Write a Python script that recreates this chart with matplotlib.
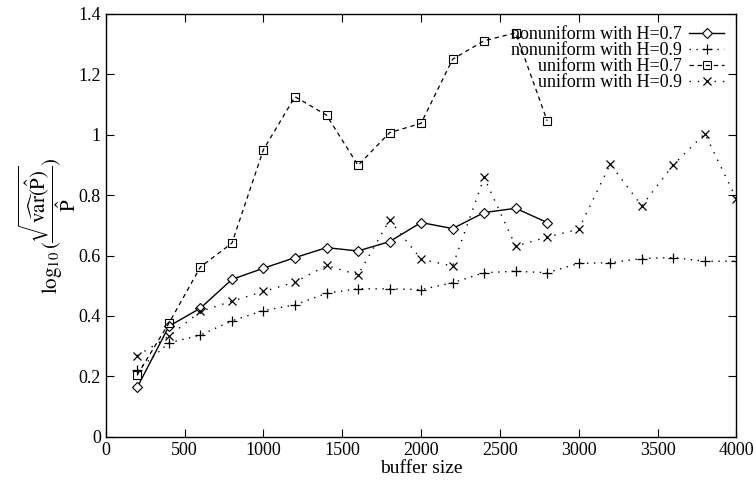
import matplotlib
matplotlib.use("Agg")
import matplotlib.pyplot as plt

plt.rcParams["font.family"] = ["Liberation Serif", "DejaVu Serif"]
plt.rcParams["mathtext.fontset"] = "stix"

# buffer sizes
x_nonuni_07 = [200, 400, 600, 800, 1000, 1200, 1400, 1600, 1800, 2000, 2200, 2400, 2600, 2800]
x_nonuni_09 = [200, 400, 600, 800, 1000, 1200, 1400, 1600, 1800, 2000, 2200, 2400, 2600, 2800,
               3000, 3200, 3400, 3600, 3800, 4000]
x_uni_07 = [200, 400, 600, 800, 1000, 1200, 1400, 1600, 1800, 2000, 2200, 2400, 2600, 2800]
x_uni_09 = [200, 400, 600, 800, 1000, 1200, 1400, 1600, 1800, 2000, 2200, 2400, 2600, 2800,
            3000, 3200, 3400, 3600, 3800, 4000]

# log10 of relative std estimate
y_nonuni_07 = [0.165, 0.366, 0.426, 0.521, 0.558, 0.593, 0.626, 0.615, 0.646, 0.709,
               0.689, 0.742, 0.756, 0.709]
y_nonuni_09 = [0.22, 0.311, 0.337, 0.384, 0.418, 0.437, 0.475, 0.49, 0.49, 0.487,
               0.51, 0.543, 0.548, 0.543, 0.574, 0.576, 0.59, 0.593, 0.581, 0.581]
y_uni_07 = [0.206, 0.376, 0.562, 0.641, 0.95, 1.125, 1.064, 0.898, 1.006, 1.037,
            1.249, 1.31, 1.336, 1.045]
y_uni_09 = [0.269, 0.333, 0.415, 0.449, 0.481, 0.512, 0.567, 0.536, 0.717, 0.588,
            0.565, 0.858, 0.631, 0.661, 0.687, 0.902, 0.764, 0.9, 1.003, 0.788]

fig = plt.figure(figsize=(7.56, 4.93), dpi=100)
ax = fig.add_axes([0.140, 0.1136, 0.834, 0.859])

ax.plot(x_nonuni_07, y_nonuni_07, color="black", lw=1.0, ls="-",
        marker="D", markersize=5, markerfacecolor="white", markeredgewidth=0.8,
        label="nonuniform with H=0.7")
ax.plot(x_nonuni_09, y_nonuni_09, color="black", lw=1.0, ls=(0, (1, 4)),
        marker="+", markersize=7, markeredgewidth=0.9,
        label="nonuniform with H=0.9")
ax.plot(x_uni_07, y_uni_07, color="black", lw=0.9, ls=(0, (3.5, 3)),
        marker="s", markersize=6, markerfacecolor="none", markeredgewidth=0.8,
        label="uniform with H=0.7")
ax.plot(x_uni_09, y_uni_09, color="black", lw=1.0, ls=(0, (1, 5)),
        marker="x", markersize=6, markeredgewidth=0.9,
        label="uniform with H=0.9")

ax.set_xlim(0, 4000)
ax.set_ylim(0, 1.4)
ax.set_xticks(range(0, 4001, 500))
ax.set_yticks([0, 0.2, 0.4, 0.6, 0.8, 1.0, 1.2, 1.4])
ax.set_yticklabels(["0", "0.2", "0.4", "0.6", "0.8", "1", "1.2", "1.4"])
ax.tick_params(direction="in", length=6, width=0.8, top=True, right=True, labelsize=13)
for s in ax.spines.values():
    s.set_linewidth(1.0)

ax.set_xlabel("buffer size", fontsize=14, labelpad=1)
ax.set_ylabel(r"$\log_{10}(\dfrac{\sqrt{\widehat{\mathrm{var}}(\hat{\mathrm{P}})}}{\hat{\mathrm{P}}})$",
              fontsize=15, labelpad=0)

ax.legend(loc="upper right", frameon=False, markerfirst=False, fontsize=13,
          labelspacing=-0.05, handlelength=1.9, handletextpad=0.4,
          borderaxespad=0.5, borderpad=0.2)

fig.savefig("out.png", dpi=100)
